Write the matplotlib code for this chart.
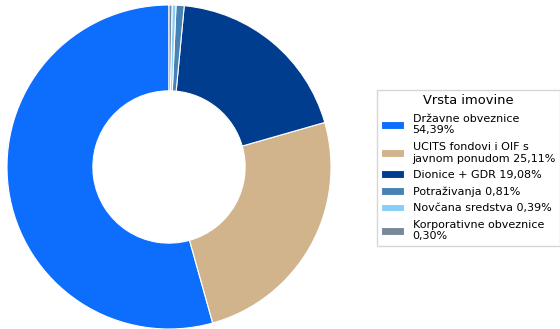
import matplotlib
matplotlib.use("Agg")
import matplotlib.pyplot as plt

# Asset allocation shares (%)
categories = [
    "Državne obveznice\n54,39%",
    "UCITS fondovi i OIF s\njavnom ponudom 25,11%",
    "Dionice + GDR 19,08%",
    "Potraživanja 0,81%",
    "Novčana sredstva 0,39%",
    "Korporativne obveznice\n0,30%",
]
shares = [54.39, 25.11, 19.08, 0.81, 0.39, 0.30]
colors = ["#0d6efd", "#d2b48c", "#003d8f", "#4682b4", "#87cefa", "#778899"]

fig = plt.figure(figsize=(5.6, 3.29), dpi=100)
ax = fig.add_axes([7 / 560, 0.0, 324 / 560, 324 / 329])

wedges, _ = ax.pie(
    shares,
    colors=colors,
    startangle=90,
    counterclock=True,
    wedgeprops=dict(width=0.53, edgecolor="white", linewidth=0.8),
)
ax.set_xlim(-1, 1)
ax.set_ylim(-1, 1)
ax.set_aspect("equal")

fig.legend(
    wedges,
    categories,
    title="Vrsta imovine",
    loc="upper left",
    bbox_to_anchor=(377 / 560, 1 - 90 / 329),
    fontsize=8,
    title_fontsize=9.4,
    labelspacing=0.58,
    frameon=True,
    fancybox=False,
    edgecolor="#cccccc",
    borderaxespad=0,
)

fig.savefig("out.png", dpi=100)
